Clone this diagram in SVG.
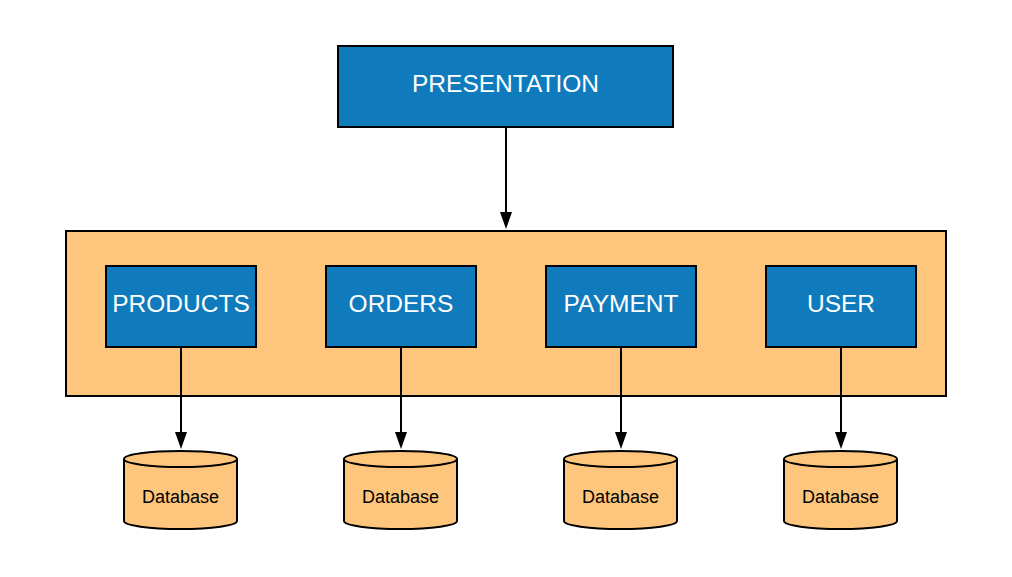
<svg xmlns="http://www.w3.org/2000/svg" width="1012" height="577" viewBox="0 0 1012 577">
<defs>
<style>
.box{fill:#0f7bbd;stroke:#000;stroke-width:2}
.lbl{font-family:"Liberation Sans",Arial,sans-serif;font-size:24.5px;fill:#fff;text-anchor:middle}
.db{fill:#fec67c;stroke:#000;stroke-width:2}
.dbl{font-family:"Liberation Sans",Arial,sans-serif;font-size:18px;fill:#000;text-anchor:middle}
</style>
<marker id="arr2" viewBox="0 0 12 17" refX="6" refY="17" markerWidth="12" markerHeight="17" markerUnits="userSpaceOnUse" orient="auto-start-reverse">
<path d="M0,0 L12,0 L6,17 z" fill="#000" transform="rotate(-90 6 8.5)"/>
</marker>
</defs>
<rect width="1012" height="577" fill="#fff"/>
<g id="container">
<rect x="66" y="231" width="880" height="165" fill="#fec67c" stroke="#000" stroke-width="2"/>
</g>
<g id="presentation">
<rect class="box" x="338" y="46" width="335" height="81"/>
<text class="lbl" x="505.5" y="91.5">PRESENTATION</text>
</g>
<g id="products">
<rect class="box" x="106" y="266" width="150" height="81"/>
<text class="lbl" x="181" y="311.5">PRODUCTS</text>
</g>
<g id="orders">
<rect class="box" x="326" y="266" width="150" height="81"/>
<text class="lbl" x="401" y="311.5">ORDERS</text>
</g>
<g id="payment">
<rect class="box" x="546" y="266" width="150" height="81"/>
<text class="lbl" x="621" y="311.5">PAYMENT</text>
</g>
<g id="user">
<rect class="box" x="766" y="266" width="150" height="81"/>
<text class="lbl" x="841" y="311.5">USER</text>
</g>
<g id="db1">
<path class="db" d="M124,459 A56.5,8 0 0 1 237,459 L237,521 A56.5,8 0 0 1 124,521 Z"/>
<path d="M124,459 A56.5,8 0 0 0 237,459" fill="none" stroke="#000" stroke-width="2"/>
<text class="dbl" x="180.5" y="502.5">Database</text>
</g>
<g id="db2">
<path class="db" d="M344,459 A56.5,8 0 0 1 457,459 L457,521 A56.5,8 0 0 1 344,521 Z"/>
<path d="M344,459 A56.5,8 0 0 0 457,459" fill="none" stroke="#000" stroke-width="2"/>
<text class="dbl" x="400.5" y="502.5">Database</text>
</g>
<g id="db3">
<path class="db" d="M564,459 A56.5,8 0 0 1 677,459 L677,521 A56.5,8 0 0 1 564,521 Z"/>
<path d="M564,459 A56.5,8 0 0 0 677,459" fill="none" stroke="#000" stroke-width="2"/>
<text class="dbl" x="620.5" y="502.5">Database</text>
</g>
<g id="db4">
<path class="db" d="M784,459 A56.5,8 0 0 1 897,459 L897,521 A56.5,8 0 0 1 784,521 Z"/>
<path d="M784,459 A56.5,8 0 0 0 897,459" fill="none" stroke="#000" stroke-width="2"/>
<text class="dbl" x="840.5" y="502.5">Database</text>
</g>
<g id="connectors" fill="#000">
<line x1="506" y1="127" x2="506" y2="214" stroke="#000" stroke-width="2"/>
<path d="M500,212 L512,212 L506,229 z"/>
<line x1="181" y1="347" x2="181" y2="434" stroke="#000" stroke-width="2"/>
<path d="M175,432 L187,432 L181,449 z"/>
<line x1="401" y1="347" x2="401" y2="434" stroke="#000" stroke-width="2"/>
<path d="M395,432 L407,432 L401,449 z"/>
<line x1="621" y1="347" x2="621" y2="434" stroke="#000" stroke-width="2"/>
<path d="M615,432 L627,432 L621,449 z"/>
<line x1="841" y1="347" x2="841" y2="434" stroke="#000" stroke-width="2"/>
<path d="M835,432 L847,432 L841,449 z"/>
</g>
</svg>
